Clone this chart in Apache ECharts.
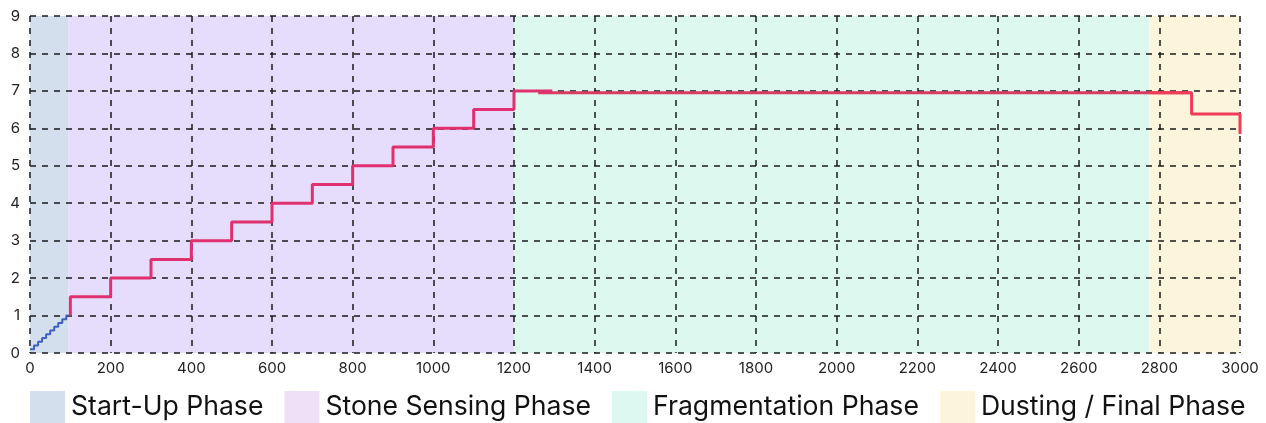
<!DOCTYPE html>
<html>
<head>
<meta charset="utf-8">
<script src="https://cdn.jsdelivr.net/npm/echarts@6/dist/echarts.min.js"></script>
<style>
html,body{margin:0;padding:0;background:#fff;}
#chart{width:1266px;height:423px;}
</style>
</head>
<body>
<div id="chart"></div>
<script>
// Phase names and band ranges (x units)
const phaseNames = ['Start-Up Phase', 'Stone Sensing Phase', 'Fragmentation Phase', 'Dusting / Final Phase'];
const phaseStart = [0, 95, 1200, 2775];
const phaseEnd = [95, 1200, 2775, 3000];
const bandColors = ['#d3dfed', '#e6dcfb', '#ddf8ef', '#fdf4dc'];
const legendColors = ['#d3dfed', '#efe0f8', '#ddf8f0', '#fdf4dc'];

// Start-up ramp (stepped)
const startX = [0, 10, 20, 30, 40, 50, 60, 70, 80, 90, 95];
const startY = [0.1, 0.2, 0.3, 0.4, 0.5, 0.6, 0.7, 0.8, 0.9, 1.0, 1.0];

// Stone sensing steps
const stoneX = [100, 100, 200, 300, 400, 500, 600, 700, 800, 900, 1000, 1100, 1200, 1295];
const stoneY = [1.0, 1.5, 2.0, 2.5, 3.0, 3.5, 4.0, 4.5, 5.0, 5.5, 6.0, 6.5, 7.0, 7.0];

// Fragmentation plateau
const fragX = [1260, 2880];
const fragY = [6.95, 6.95];

// Dusting / final
const dustX = [2775, 2880, 3000];
const dustY = [6.95, 6.38, 5.85];

const xTicks = { min: 0, max: 3000, interval: 200 };
const yTicks = { min: 0, max: 9, interval: 1 };

const zip = (xs, ys) => xs.map((x, i) => [x, ys[i]]);

const gridLine = { show: true, lineStyle: { color: '#1a1a1a', width: 1.5, type: [6, 6] } };
const axisLabel = { color: '#222', fontSize: 15, fontFamily: 'Inter', formatter: v => String(v) };

const bandSeries = phaseNames.map((name, i) => ({
  name: name,
  type: 'line',
  data: [],
  z: 0,
  itemStyle: { color: legendColors[i] },
  lineStyle: { width: 0 },
  markArea: {
    silent: true,
    itemStyle: { color: bandColors[i] },
    data: [[{ xAxis: phaseStart[i] }, { xAxis: phaseEnd[i] }]]
  }
}));

const lineBase = { type: 'line', step: 'end', showSymbol: false, silent: true, z: 5 };

const option = {
  animation: false,
  grid: { left: 30, right: 26, top: 16, bottom: 70 },
  xAxis: {
    type: 'value', min: xTicks.min, max: xTicks.max, interval: xTicks.interval, z: 2,
    axisLine: { show: false }, axisTick: { show: false },
    splitLine: gridLine, axisLabel: Object.assign({ margin: 8 }, axisLabel)
  },
  yAxis: {
    type: 'value', min: yTicks.min, max: yTicks.max, interval: yTicks.interval, z: 2,
    axisLine: { show: false }, axisTick: { show: false },
    splitLine: gridLine, axisLabel: Object.assign({ margin: 10 }, axisLabel)
  },
  legend: {
    data: phaseNames.map((n, i) => ({ name: n, icon: 'rect', itemStyle: { color: legendColors[i] } })),
    left: 25, bottom: -5,
    itemWidth: 35, itemHeight: 32, itemGap: 21,
    selectedMode: false,
    textStyle: { fontSize: 26.6, fontFamily: 'Inter', color: '#111', padding: [0, 0, 0, 1] }
  },
  series: bandSeries.concat([
    Object.assign({ name: 'startup-line', data: zip(startX, startY), lineStyle: { color: '#3d5ec4', width: 2 } }, lineBase),
    Object.assign({ name: 'frag-line', data: zip(fragX, fragY), lineStyle: { color: '#d83a62', width: 3 } }, lineBase),
    Object.assign({ name: 'dust-line', data: zip(dustX, dustY), lineStyle: { color: '#f03c56', width: 3 } }, lineBase),
    Object.assign({ name: 'stone-line', data: zip(stoneX, stoneY), lineStyle: { color: '#e1306f', width: 3 } }, lineBase)
  ])
};

const chart = echarts.init(document.getElementById('chart'));
chart.setOption(option);
</script>
</body>
</html>
